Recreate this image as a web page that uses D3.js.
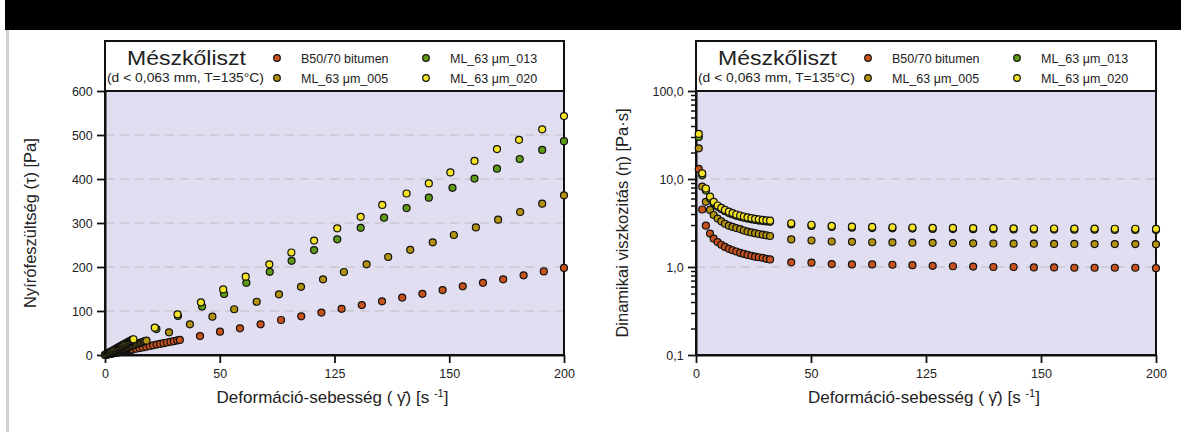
<!DOCTYPE html>
<html>
<head>
<meta charset="utf-8">
<script src="https://cdn.jsdelivr.net/npm/d3@7"></script>
<style>
  body { margin: 0; background: #fff; }
  text { font-family: "Liberation Sans", Arial, sans-serif; fill: #222; }
</style>
</head>
<body>
<svg id="chart" width="1181" height="432"></svg>
<script>
// series labels, legend text, axis ticks
const seriesNames = ["B50/70 bitumen", "ML_63 μm_005", "ML_63 μm_013", "ML_63 μm_020"];
const legendTitle = "Mészkőliszt";
const legendSub = "(d < 0,063 mm, T=135°C)";
const xTicks = [0, 50, 100, 150, 200];
const xTickLabels = ["0", "50", "125", "150", "200"];
const tauTicks = [0, 100, 200, 300, 400, 500, 600];
const tauGrid = [100, 200, 300, 400, 500];
const etaTicks = [0.1, 1, 10, 100];
const etaTickLabels = ["0,1", "1,0", "10,0", "100,0"];
const etaGrid = [1, 10];

// left panel: shear stress vs shear rate (each series has its own rates)
const rateB50 = [0.1, 0.6, 1.1, 1.6, 2.1, 2.6, 3.1, 3.6, 4.1, 4.6, 5.1, 5.6, 6.1, 6.6, 7.1, 7.6, 8.1, 8.6, 9.1, 9.6, 10.1, 10.6, 11.1, 11.6, 12.1,
  13.5, 15, 16.5, 18, 19.5, 21, 22.5, 24, 25.5, 27, 28.5, 30, 31.5, 32.6,
  41.4, 50.1, 58.8, 67.8, 76.7, 85.5, 94.3, 103.1, 111.9, 120.7, 129.5, 138.3, 147.1, 155.9, 164.7, 173.5, 182.4, 191.2, 200];
const tauB50 = [0.1, 0.6, 1.2, 1.7, 2.2, 2.7, 3.3, 3.8, 4.3, 4.8, 5.4, 5.9, 6.4, 6.9, 7.5, 8.0, 8.5, 9.0, 9.6, 10.1, 10.6, 11.1, 11.7, 12.2, 12.7,
  14.2, 15.8, 17.3, 18.9, 20.5, 22.1, 23.6, 25.2, 26.8, 28.4, 29.9, 31.5, 33.1, 34.2,
  43, 53, 60.6, 69.7, 79.5, 88, 96.5, 105, 113.5, 122, 130.5, 139, 147.5, 156, 164, 172, 181, 190, 198];

const rate005 = [0.1, 0.7, 1.3, 1.9, 2.5, 3.1, 3.7, 4.3, 4.9, 5.5, 6.1, 6.7, 7.3, 7.9, 8.5, 9.1, 9.7, 10.3, 10.9, 11.5,
  12.1, 12.7, 13.3, 13.9, 14.5, 15.1, 15.7, 16.3, 16.9, 17.5, 18.1,
  27.9, 37, 46.8, 56.3, 66.1, 75.8, 85.4, 95, 104.1, 114, 123.4, 133, 142.8, 152, 161.6, 171.3, 180.9, 190.5, 200];
const tau005 = [0.2, 1.3, 2.3, 3.4, 4.5, 5.6, 6.7, 7.7, 8.8, 9.9, 11.0, 12.1, 13.1, 14.2, 15.3, 16.4, 17.5, 18.5, 19.6, 20.7,
  21.8, 22.9, 23.9, 25.0, 26.1, 27.2, 28.3, 29.3, 30.4, 31.5, 32.5,
  51.5, 69.7, 87, 104, 121, 138, 155, 172, 188.6, 206, 222.7, 239, 256, 272.7, 290, 307.5, 325, 344, 363];

const rate013 = [0.1, 0.5, 0.9, 1.3, 1.7, 2.1, 2.5, 2.9, 3.3, 3.7, 4.1, 4.5, 4.9, 5.3, 5.7, 6.1, 6.5, 6.9, 7.3, 7.7,
  8.1, 8.5, 8.9, 9.3, 9.7, 10.1, 10.5, 10.9, 11.3, 11.7,
  22.4, 31.8, 42.3, 51.9, 61.6, 71.8, 81.3, 91.1, 101.2, 111.4, 121.6, 131.4, 141.1, 151.4, 161, 170.8, 180.7, 190.5, 200];
const tau013 = [0.3, 1.4, 2.5, 3.6, 4.7, 5.8, 6.9, 8.0, 9.1, 10.2, 11.3, 12.4, 13.5, 14.6, 15.7, 16.8, 17.9, 19.0, 20.1, 21.2,
  22.3, 23.4, 24.5, 25.6, 26.7, 27.8, 28.9, 30.0, 31.1, 32.2,
  59, 88.6, 110, 138.6, 164, 189, 214, 238.5, 263, 289, 312, 334, 357.5, 380, 401, 423.5, 445.5, 466, 486];

const rate020 = [0.1, 0.5, 0.9, 1.3, 1.7, 2.1, 2.5, 2.9, 3.3, 3.7, 4.1, 4.5, 4.9, 5.3, 5.7, 6.1, 6.5, 6.9, 7.3, 7.7,
  8.1, 8.5, 8.9, 9.3, 9.7, 10.1, 10.5, 10.9, 11.3, 11.7, 12.1, 12.4,
  21.7, 31.6, 41.8, 51.5, 61.3, 71.6, 81.2, 91.1, 101.2, 111.4, 120.8, 131.4, 141.1, 150.5, 161, 170.8, 180.4, 190.5, 200];
const tau020 = [0.3, 1.5, 2.6, 3.8, 4.9, 6.1, 7.3, 8.4, 9.6, 10.7, 11.9, 13.1, 14.2, 15.4, 16.5, 17.7, 18.9, 20.0, 21.2, 22.3,
  23.5, 24.7, 25.8, 27.0, 28.1, 29.3, 30.5, 31.6, 32.8, 33.9, 35.1, 35.8,
  62, 92.4, 119.7, 149, 178, 206, 233, 260, 288, 314, 341, 367, 390, 415, 441, 468, 489, 513, 543];

// right panel: viscosity vs shear rate (shared rates)
const rateEta = [1.2, 2.7, 4.3, 6.1, 7.7, 9.4, 11.0, 12.6, 14.3, 15.9, 17.5, 19.2, 20.8, 22.4, 24.1, 25.7, 27.3, 29.0, 30.6, 32.2,
  41.4, 50.2, 59.0, 67.8, 76.6, 85.4, 94.1, 102.9, 111.7, 120.5, 129.3, 138.1, 146.9, 155.7, 164.5, 173.3, 182.1, 191.0, 200];
const etaB50 = [13.0, 4.5, 2.95, 2.4, 2.1, 1.92, 1.79, 1.69, 1.61, 1.55, 1.50, 1.45, 1.41, 1.37, 1.34, 1.31, 1.29, 1.27, 1.24, 1.22,
  1.13, 1.12, 1.08, 1.07, 1.07, 1.06, 1.05, 1.03, 1.02, 1.01, 1.0, 1.0, 0.99, 0.99, 0.98, 0.98, 0.98, 0.98, 0.97];
const eta005 = [22.3, 8.2, 5.5, 4.45, 3.9, 3.55, 3.3, 3.1, 2.95, 2.85, 2.77, 2.7, 2.6, 2.53, 2.47, 2.42, 2.37, 2.33, 2.29, 2.25,
  2.06, 2.0, 1.95, 1.93, 1.91, 1.9, 1.89, 1.88, 1.87, 1.86, 1.85, 1.84, 1.84, 1.83, 1.83, 1.82, 1.82, 1.82, 1.81];
const eta013 = [30.0, 11.0, 7.4, 6.0, 5.3, 4.85, 4.55, 4.3, 4.1, 3.95, 3.82, 3.72, 3.63, 3.55, 3.48, 3.42, 3.37, 3.33, 3.29, 3.26,
  3.05, 2.93, 2.85, 2.8, 2.77, 2.75, 2.73, 2.71, 2.7, 2.69, 2.68, 2.67, 2.66, 2.66, 2.65, 2.65, 2.64, 2.64, 2.63];
const eta020 = [32.5, 11.6, 7.8, 6.3, 5.5, 5.0, 4.7, 4.45, 4.25, 4.1, 3.95, 3.85, 3.75, 3.66, 3.59, 3.53, 3.48, 3.43, 3.39, 3.36,
  3.14, 3.02, 2.93, 2.88, 2.85, 2.83, 2.81, 2.79, 2.78, 2.77, 2.76, 2.75, 2.74, 2.74, 2.73, 2.73, 2.72, 2.72, 2.71];

const colors = ["#c8521c", "#b3920e", "#5e9c16", "#f4e424"];

const svg = d3.select("#chart");
const plotTop = 91, plotBottom = 355, legTop = 41;

// header band and left rule
svg.append("rect").attr("x", 5).attr("y", 0).attr("width", 1176).attr("height", 30).attr("fill", "#000");
svg.append("rect").attr("x", 6).attr("y", 30).attr("width", 3).attr("height", 402).attr("fill", "#cfcfcf");

function zipPts(xs, ys) {
  return xs.map((x, i) => ({x, y: ys[i]}));
}

function drawPanel(p) {
  const g = svg.append("g");
  const x = d3.scaleLinear().domain([0, 200]).range([p.x0, p.x1]);
  const y = p.log
    ? d3.scaleLog().domain([0.1, 100]).range([plotBottom, plotTop])
    : d3.scaleLinear().domain([0, 600]).range([plotBottom, plotTop]);

  // legend box
  g.append("rect").attr("x", p.x0).attr("y", legTop).attr("width", p.x1 - p.x0).attr("height", plotTop - legTop)
    .attr("fill", "#fff").attr("stroke", "#111").attr("stroke-width", 2);
  g.append("text").attr("x", p.x0 + 22).attr("y", 65).attr("font-size", 21)
    .attr("textLength", 119).attr("lengthAdjust", "spacingAndGlyphs").text(legendTitle);
  g.append("text").attr("x", p.x0 + 2).attr("y", 82).attr("font-size", 12)
    .attr("textLength", 157).attr("lengthAdjust", "spacingAndGlyphs").text(legendSub);
  const legPos = [[172, 58], [172, 78], [321, 58], [321, 78]];
  seriesNames.forEach((name, i) => {
    g.append("circle").attr("cx", p.x0 + legPos[i][0]).attr("cy", legPos[i][1]).attr("r", 3.3)
      .attr("fill", colors[i]).attr("stroke", "#111").attr("stroke-width", 1.2);
    g.append("text").attr("x", p.x0 + legPos[i][0] + 24).attr("y", legPos[i][1] + 4.5)
      .attr("font-size", 12.5).text(name);
  });

  // plot area
  g.append("rect").attr("x", p.x0).attr("y", plotTop).attr("width", p.x1 - p.x0).attr("height", plotBottom - plotTop)
    .attr("fill", "#e1def1");
  g.append("g").selectAll("line").data(p.grid).enter().append("line")
    .attr("x1", p.x0).attr("x2", p.x1).attr("y1", d => y(d)).attr("y2", d => y(d))
    .attr("stroke", "#c9c7cf").attr("stroke-width", 1.6).attr("stroke-dasharray", "9,6");
  g.append("rect").attr("x", p.x0).attr("y", plotTop).attr("width", p.x1 - p.x0).attr("height", plotBottom - plotTop)
    .attr("fill", "none").attr("stroke", "#111").attr("stroke-width", 2);

  // axes
  const xAxis = g.append("g").attr("transform", `translate(0,${plotBottom})`)
    .call(d3.axisBottom(x).tickValues(xTicks).tickFormat((d, i) => xTickLabels[i]).tickSize(8).tickSizeOuter(0));
  const yAxis = g.append("g").attr("transform", `translate(${p.x0},0)`)
    .call(d3.axisLeft(y).tickValues(p.ticks).tickFormat((d, i) => p.tickLabels[i]).tickSize(8).tickSizeOuter(0));
  if (p.log) {
    const minor = [];
    [0.1, 1, 10].forEach(dec => { for (let k = 2; k <= 9; k++) minor.push(dec * k); });
    g.append("g").attr("transform", `translate(${p.x0},0)`)
      .call(d3.axisLeft(y).tickValues(minor).tickFormat("").tickSize(5).tickSizeOuter(0))
      .call(a => a.select(".domain").remove())
      .selectAll("line").attr("stroke", "#111").attr("stroke-width", 1.5);
  }
  [xAxis, yAxis].forEach(a => {
    a.select(".domain").attr("stroke", "#111").attr("stroke-width", 2);
    a.selectAll(".tick line").attr("stroke", "#111").attr("stroke-width", 1.8);
    a.selectAll(".tick text").attr("font-size", 12.5).attr("fill", "#333")
      .style("font-family", '"Liberation Sans", Arial, sans-serif');
  });
  xAxis.selectAll(".tick text").attr("dy", "0.95em");
  yAxis.selectAll(".tick text").attr("dx", "-0.1em");

  // axis titles
  const xt = g.append("text").attr("x", (p.x0 + p.x1) / 2 - 2).attr("y", 403).attr("text-anchor", "middle")
    .attr("font-size", 17).attr("fill", "#333");
  xt.append("tspan").text("Deformáció-sebesség ( γ\u0304) [s ");
  xt.append("tspan").attr("font-size", 11).attr("dy", -6).text("-1");
  xt.append("tspan").attr("dy", 6).text("]");
  g.append("text").attr("transform", `translate(${p.titleX},${(plotTop + plotBottom) / 2}) rotate(-90)`)
    .attr("text-anchor", "middle").attr("font-size", 16.5).attr("fill", "#333").text(p.yTitle);

  // markers
  p.series.forEach((pts, i) => {
    g.append("g").selectAll("circle").data(pts).enter().append("circle")
      .attr("cx", d => x(d.x)).attr("cy", d => y(d.y)).attr("r", 3.5)
      .attr("fill", colors[i]).attr("stroke", "#111").attr("stroke-width", 1.2);
  });
}

drawPanel({
  x0: 105, x1: 564, log: false, ticks: tauTicks, tickLabels: tauTicks.map(String), grid: tauGrid,
  titleX: 36, yTitle: "Nyírófeszültség (τ) [Pa]",
  series: [zipPts(rateB50, tauB50), zipPts(rate005, tau005), zipPts(rate013, tau013), zipPts(rate020, tau020)]
});

drawPanel({
  x0: 696, x1: 1156, log: true, ticks: etaTicks, tickLabels: etaTickLabels, grid: etaGrid,
  titleX: 628, yTitle: "Dinamikai viszkozitás (η) [Pa·s]",
  series: [zipPts(rateEta, etaB50), zipPts(rateEta, eta005), zipPts(rateEta, eta013), zipPts(rateEta, eta020)]
});
</script>
</body>
</html>
